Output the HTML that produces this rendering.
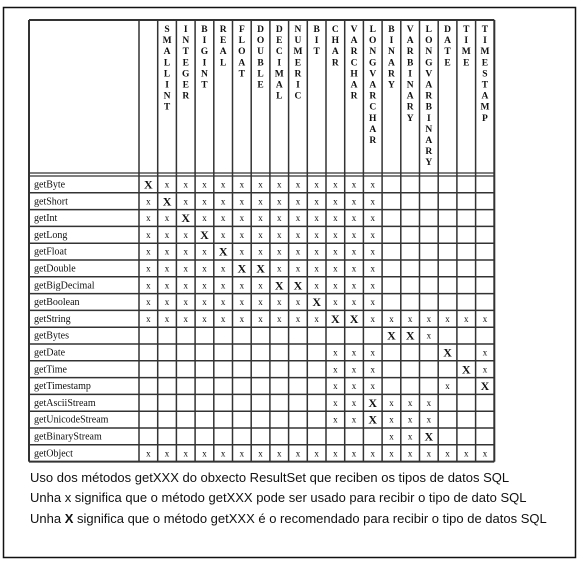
<!DOCTYPE html>
<html><head><meta charset="utf-8">
<style>
body{margin:0;background:#fff;width:587px;height:567px;overflow:hidden;}
svg{position:absolute;left:0;top:0;}
.cap{position:absolute;left:30px;font-family:"Liberation Sans",sans-serif;font-size:13px;color:#111;white-space:nowrap;}
</style></head>
<body>
<svg id="chart" width="587" height="567">
  <rect x="3.5" y="7.5" width="572" height="550" fill="none" stroke="#111" stroke-width="1.5"/>
</svg>
<div class="cap" style="top:470px">Uso dos métodos getXXX do obxecto ResultSet que reciben os tipos de datos SQL</div>
<div class="cap" style="top:490px">Unha x significa que o método getXXX pode ser usado para recibir o tipo de dato SQL</div>
<div class="cap" style="top:511px">Unha <b>X</b> significa que o método getXXX é o recomendado para recibir o tipo de datos SQL</div>
<script>
const columns=["","SMALLINT","INTEGER","BIGINT","REAL","FLOAT","DOUBLE","DECIMAL","NUMERIC","BIT","CHAR","VARCHAR","LONGVARCHAR","BINARY","VARBINARY","LONGVARBINARY","DATE","TIME","TIMESTAMP"];
const methods=["getByte","getShort","getInt","getLong","getFloat","getDouble","getBigDecimal","getBoolean","getString","getBytes","getDate","getTime","getTimestamp","getAsciiStream","getUnicodeStream","getBinaryStream","getObject"];
// one string per method, one char per column: X recommended, x usable, . empty
const marks=[
"Xxxxxxxxxxxxx......",
"xXxxxxxxxxxxx......",
"xxXxxxxxxxxxx......",
"xxxXxxxxxxxxx......",
"xxxxXxxxxxxxx......",
"xxxxxXXxxxxxx......",
"xxxxxxxXXxxxx......",
"xxxxxxxxxXxxx......",
"xxxxxxxxxxXXxxxxxxx",
".............XXx...",
"..........xxx...X.x",
"..........xxx....Xx",
"..........xxx...x.X",
"..........xxXxxx...",
"..........xxXxxx...",
".............xxX...",
"xxxxxxxxxxxxxxxxxxx"];
const svg=document.getElementById('chart');
const NS="http://www.w3.org/2000/svg";
const tL=29,nameR=139,colW=18.7,tT=20,hB=173,rT=176,rowH=16.8;
const colX=i=>nameR+i*colW;
const rowY=i=>rT+i*rowH;
const tR=colX(columns.length), tB=rowY(methods.length);
function line(x1,y1,x2,y2,w){const l=document.createElementNS(NS,'line');
l.setAttribute('x1',x1);l.setAttribute('y1',y1);l.setAttribute('x2',x2);l.setAttribute('y2',y2);
l.setAttribute('stroke','#333');l.setAttribute('stroke-width',w||1.3);


svg.appendChild(l);}
function text(x,y,s,size,weight,anchor,name){const t=document.createElementNS(NS,'text');
t.setAttribute('x',x);t.setAttribute('y',y);t.setAttribute('font-family','"Liberation Serif",serif');
t.setAttribute('font-size',size);t.setAttribute('font-weight',weight||'normal');t.setAttribute('fill','#111');
if(anchor)t.setAttribute('text-anchor',anchor);t.textContent=s;


svg.appendChild(t);}
line(tL,tT,tR,tT,2);line(tL,tB,tR,tB,2);line(tL,tT,tL,tB,2);line(tR,tT,tR,tB,2);
line(tL,hB,tR,hB,1.3);line(tL,rT,tR,rT,1.3);
for(let i=0;i<=columns.length;i++){line(colX(i),tT,colX(i),tB,1.5);}
for(let r=1;r<methods.length;r++){line(tL,rowY(r),tR,rowY(r),1.5);}
columns.forEach((c,i)=>{const cx=colX(i)+colW/2;
  for(let k=0;k<c.length;k++){text(cx,tT+12+k*11.1,c[k],9.5,'bold','middle','column-header-'+c.toLowerCase());}});
methods.forEach((m,r)=>{text(tL+5,rowY(r)+11.5,m,10,'normal',null,'row-label-'+m.toLowerCase());
  const row=marks[r];
  for(let c=0;c<columns.length;c++){const ch=row[c];if(ch==='.')continue;
    const big=ch==='X';
    text(colX(c)+colW/2,rowY(r)+(big?12.5:11.5),big?'X':'x',big?12:9,big?'bold':'normal','middle',big?'recommended-mark':'usable-mark');}
});
</script>
</body></html>
